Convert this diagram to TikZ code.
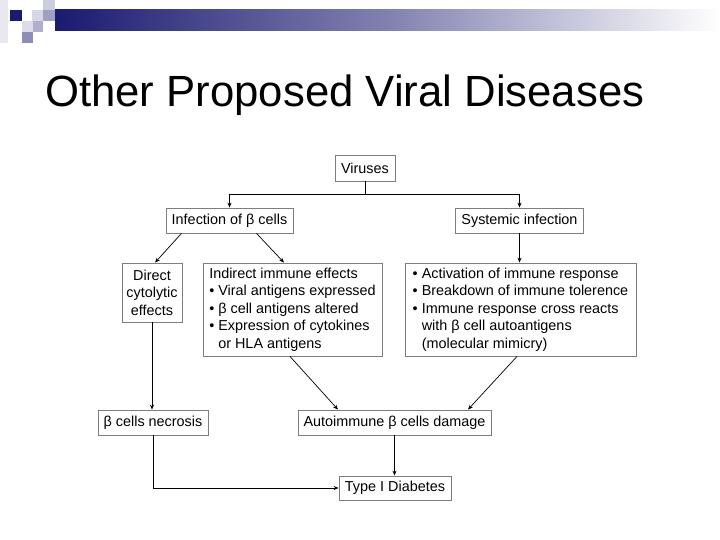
\documentclass[tikz,border=0pt]{standalone}
\usepackage{fontspec}
\setmainfont{Liberation Sans}
\usepackage{tikz}
\usetikzlibrary{arrows.meta}

\definecolor{navy}{RGB}{26,26,112}
\definecolor{boxgray}{RGB}{125,125,125}

\begin{document}
\begin{tikzpicture}[x=1pt,y=-1pt,
        box/.style={draw=boxgray,line width=0.8pt,fill=white,inner sep=0pt,
            font=\fontsize{14.4}{17.5}\selectfont},
        arr/.style={-{Stealth[length=5pt,width=4pt]},line width=0.7pt}]
        \useasboundingbox (0,0) rectangle (720,540);

        % header bar and squares
        \shade[left color=navy,right color=white,middle color=navy!55] (55,10) rectangle (720,31);
        \fill[navy!10] (0,0) rectangle (8,43);
        \fill[navy] (10,10) rectangle (22,21);
        \fill[navy!22] (43,0) rectangle (55,10);
        \fill[navy!18] (32,10) rectangle (43,21);
        \fill[navy!42] (43,10) rectangle (55,21);
        \fill[navy!15] (22,21) rectangle (33,32);
        \fill[navy!35] (33,21) rectangle (43,32);
        \fill[navy!50] (22,32) rectangle (33,43);

        \node[anchor=base west,inner sep=0pt,font=\fontsize{43.7}{50}\selectfont] (title) at (45,107) {Other Proposed Viral Diseases};

        \node[box,minimum width=60,minimum height=26] (vir) at (365,168) {Viruses};
        \node[box,minimum width=127,minimum height=25] (infb) at (229.5,220.5) {Infection of β cells};
        \node[box,minimum width=128,minimum height=25] (sys) at (519.5,220.5) {Systemic infection};

        \node[box,align=center,minimum width=60,minimum height=59] (dir) at (152,292.5) {Direct\\cytolytic\\effects};
        \node[box,align=left,minimum width=179,minimum height=93] (ind) at (292.5,309.5)
            {Indirect immune effects\\• Viral antigens expressed\\• β cell antigens altered\\• Expression of cytokines\\\phantom{• }or HLA antigens};
        \node[box,align=left,minimum width=231,minimum height=93] (act) at (520.5,309.5)
            {• Activation of immune response\\• Breakdown of immune tolerence\\• Immune response cross reacts\\\phantom{• }with β cell autoantigens\\\phantom{• }(molecular mimicry)};

        \node[box,minimum width=110,minimum height=25] (necr) at (153,422.5) {β cells necrosis};
        \node[box,minimum width=193,minimum height=25] (auto) at (394.5,422.5) {Autoimmune β cells damage};
        \node[box,minimum width=112,minimum height=24] (t1d) at (395,488) {Type I Diabetes};

        % connectors
        \draw[line width=0.7pt] (vir.south) -- ++(0,13) coordinate (split);
        \draw[arr] (split) -| (infb.north);
        \draw[arr] (split) -| (sys.north);
        \draw[arr] ([xshift=-48]infb.south) -- ([xshift=3]dir.north);
        \draw[arr] ([xshift=27]infb.south) -- ([xshift=-8.5]ind.north);
        \draw[arr] (sys.south) -- (sys.south |- act.north);
        \draw[arr] (dir.south) -- (dir.south |- necr.north);
        \draw[arr] ([xshift=-2.5]ind.south) -- ([xshift=-56.5]auto.north);
        \draw[arr] ([xshift=-3.5]act.south) -- ([xshift=73.5]auto.north);
        \draw[arr] (necr.south) |- (t1d.west);
        \draw[arr] (auto.south) -- (auto.south |- t1d.north);
    \end{tikzpicture}
\end{document}
